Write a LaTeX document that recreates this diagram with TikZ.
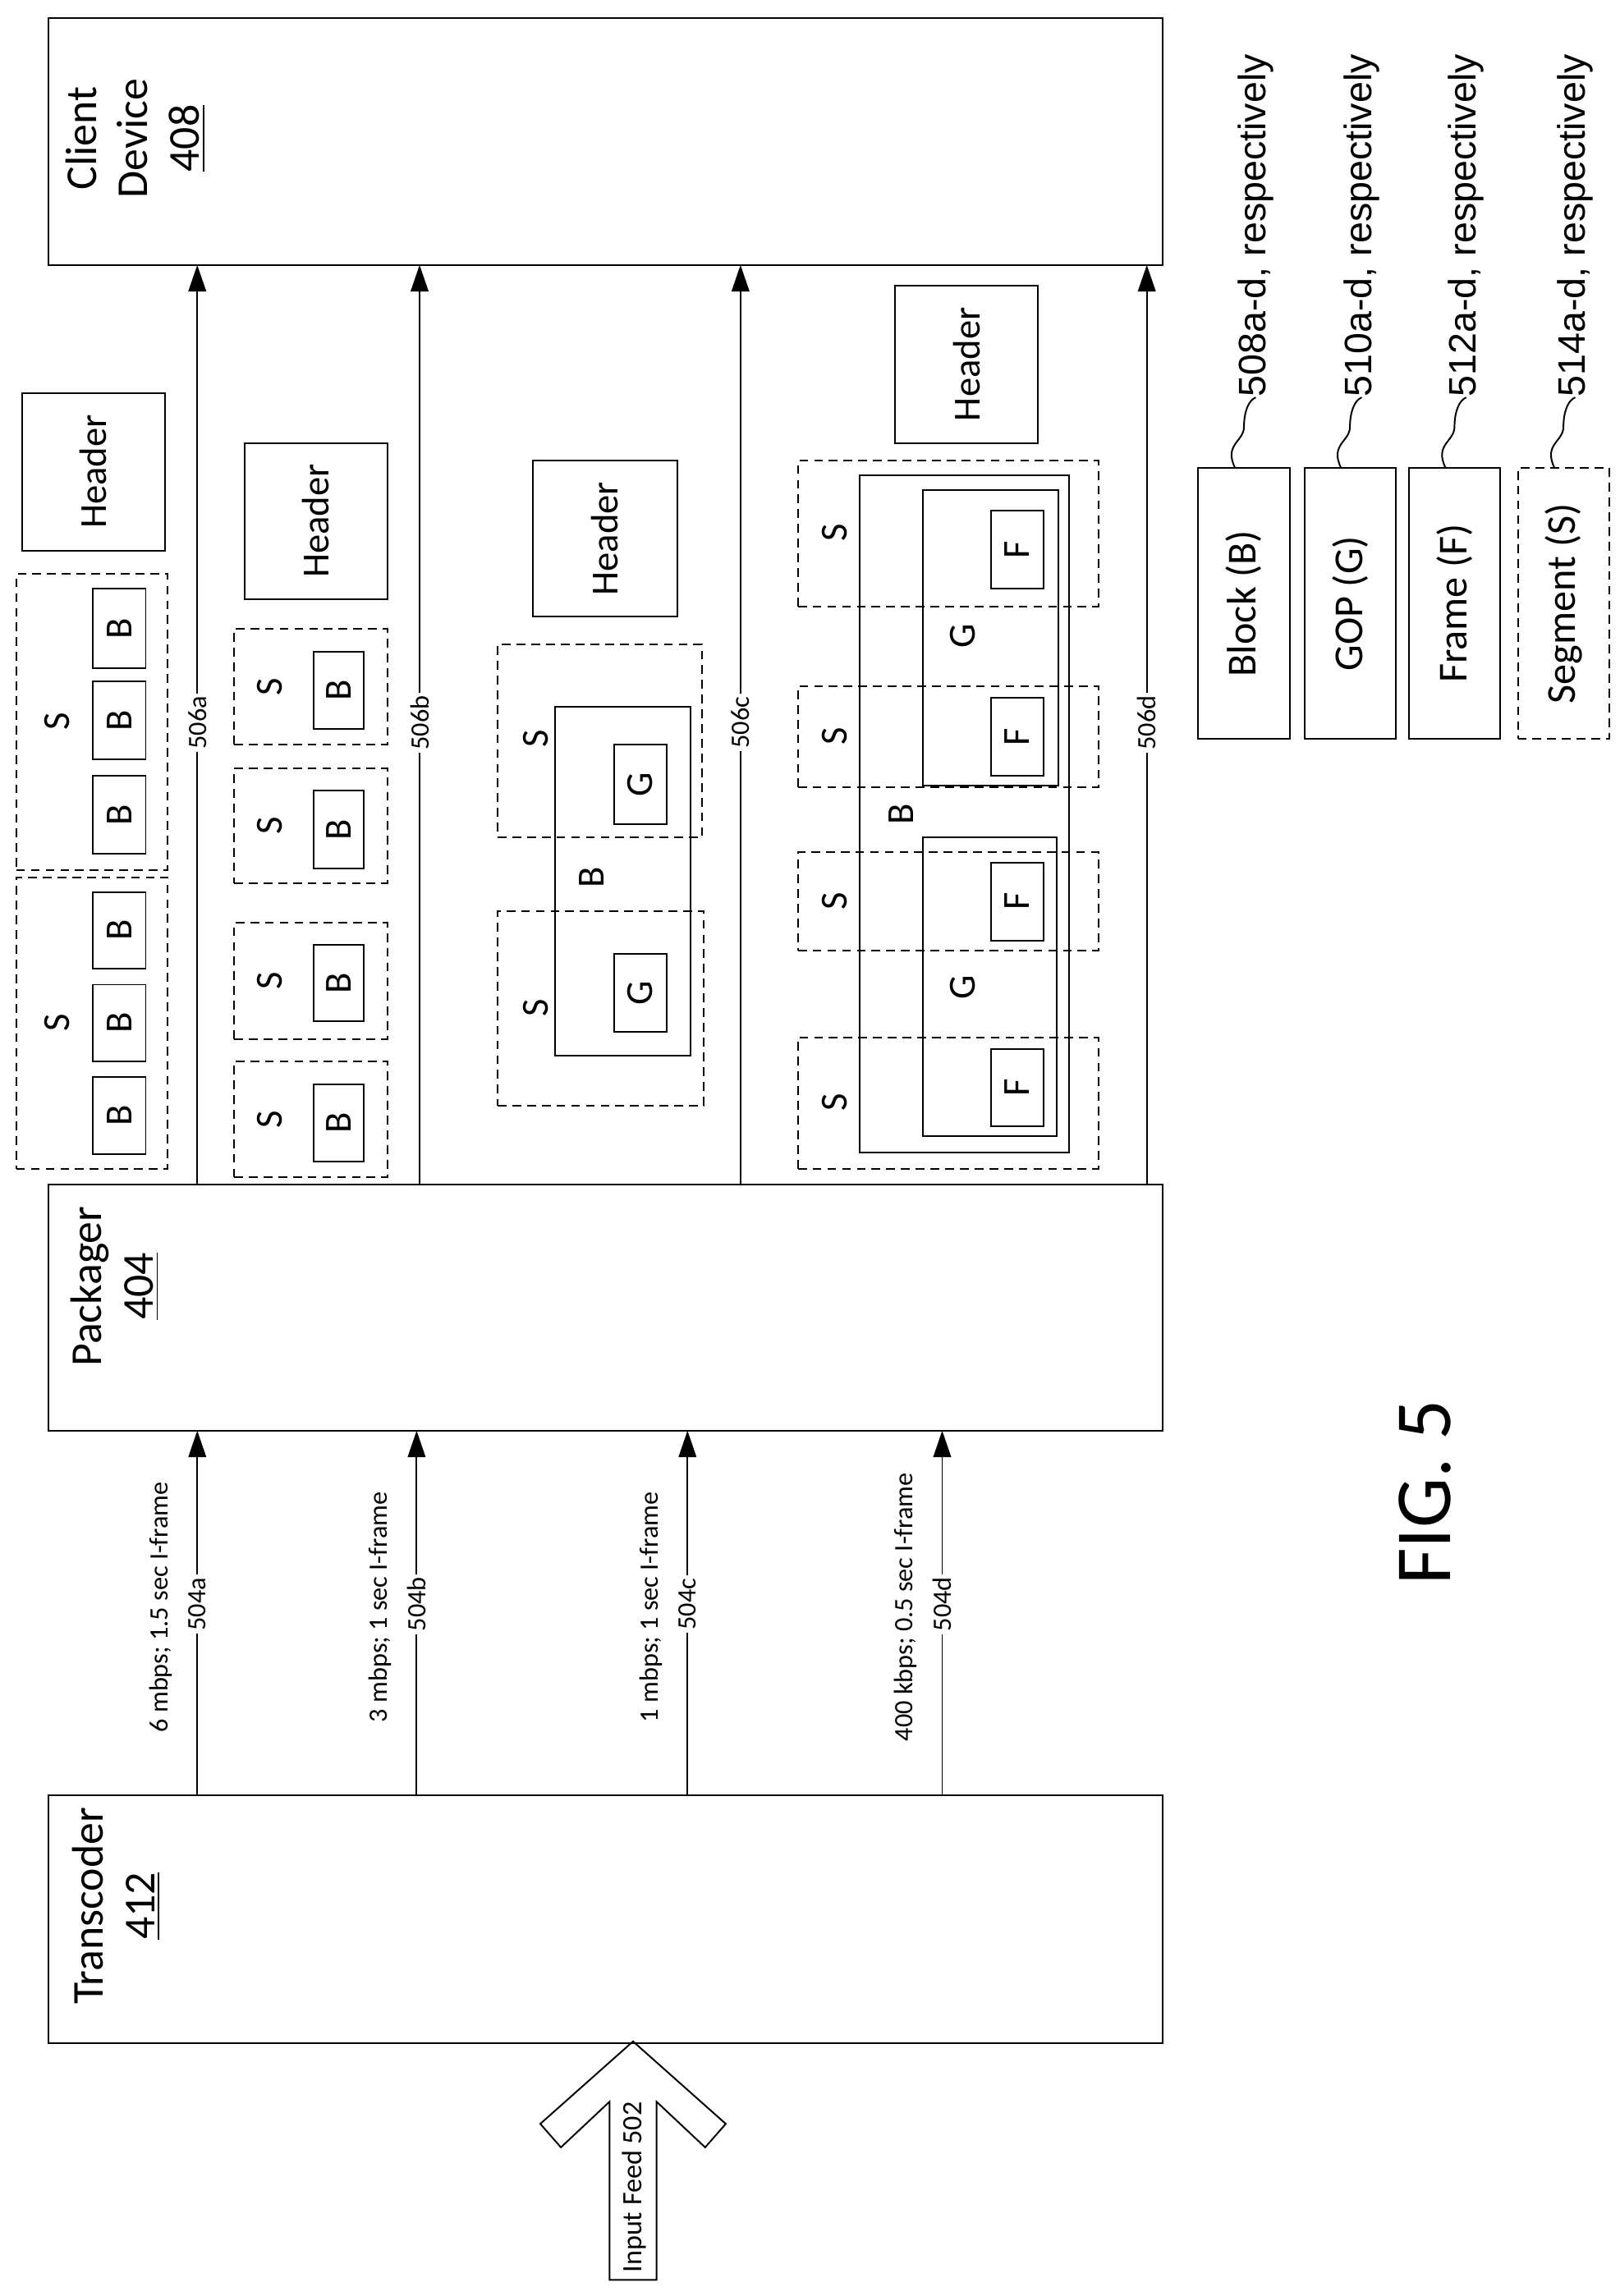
\documentclass[tikz,border=0pt]{standalone}
\usepackage{fontspec}
\setmainfont{Carlito}
\newfontfamily\arialf{Liberation Sans}
\usetikzlibrary{arrows.meta}
\tikzset{
  x=0.5pt,y=-0.5pt,
  box/.style={draw,line width=0.55pt,inner sep=0pt},
  dbox/.style={box,dashed,dash pattern=on 3pt off 2pt},
  rt/.style={rotate=90,inner sep=0pt,font=\fontsize{13}{15}\selectfont},
  big/.style={rotate=90,inner sep=0pt,align=center,font=\fontsize{15}{17.5}\selectfont},
  small/.style={rotate=90,inner sep=1pt,font=\fontsize{9}{10}\selectfont},
  lab/.style={small,fill=white},
  arr/.style={line width=0.55pt,-{Triangle[length=9pt,width=6pt]}},
  leg/.style={rotate=90,anchor=west,inner sep=0pt,font=\arialf\fontsize{13}{14}\selectfont},
}
\newcommand{\bx}[7]{\node[#2,minimum width={(#5-#3)*0.5pt},minimum height={(#6-#4)*0.5pt}] (#1) at ({(#3+#5)/2},{(#4+#6)/2}) {};}
\begin{document}
\begin{tikzpicture}
\useasboundingbox (0,0) rectangle (1100,1560);
% main boxes
\bx{client}{box}{33}{12}{790}{180}{}
\node[big] (clientt) at (92,94) {Client\\Device\\\underline{408}};
\bx{pack}{box}{33}{805}{790}{972}{}
\node[big] (packt) at (78,874) {Packager\\\underline{404}};
\bx{trans}{box}{33}{1220}{790}{1388}{}
\node[big] (transt) at (79,1295) {Transcoder\\\underline{412}};
% input feed arrow
\draw[line width=0.55pt] (430,1387) coordinate (tip) -- (493,1443) -- (479,1459) -- (446,1428) -- (446,1549) -- (414,1549) -- (414,1428) -- (381,1459) -- (367,1443) -- cycle;
\node[rotate=90,inner sep=0pt,font=\fontsize{9.5}{11}\selectfont] (feed) at (431,1486) {Input Feed 502};
% transcoder -> packager
\foreach \n/\x/\r in {a/134/{6 mbps; 1.5 sec I-frame},b/283/{3 mbps; 1 sec I-frame},c/467/{1 mbps; 1 sec I-frame},d/640/{400 kbps; 0.5 sec I-frame}}{
  \coordinate (ts\n) at (\x,1220);
  \coordinate (pe\n) at (\x,972);
  \draw[arr] (ts\n) -- (pe\n);
  \node[lab] (l504\n) at (\x,1090) {504\n};
  \node[small] (rate\n) at (\x-25,1092) {\r};
}
% packager -> client
\foreach \n/\x in {a/134,b/285,c/503,d/779}{
  \coordinate (ps\n) at (\x,805);
  \coordinate (ce\n) at (\x,180);
  \draw[arr] (ps\n) -- (ce\n);
  \node[lab] (l506\n) at (\x,491) {506\n};
}
% column a
\bx{ha}{box}{15}{267}{112}{374}{}
\node[rt] (hat) at (ha) {Header};
\bx{sa1}{dbox}{11}{390}{114}{591}{}
\bx{sa2}{dbox}{11}{596}{114}{794}{}
\node[rt] (sa1t) at (39,490) {S};
\node[rt] (sa2t) at (39,695) {S};
\foreach \i/\a/\b in {1/400/454,2/463/516,3/527/580,4/606/658,5/669/721,6/732/784}{
  \bx{ba\i}{box}{63}{\a}{99}{\b}{}
  \node[rt] (ba\i t) at (ba\i) {B};
}
% column b
\bx{hb}{box}{166}{301}{263}{407}{}
\node[rt] (hbt) at (hb) {Header};
\foreach \i/\a/\b/\c/\d in {1/427/506/443/495,2/522/600/537/590,3/627/706/642/694,4/721/800/737/789}{
  \bx{sb\i}{dbox}{159}{\a}{263}{\b}{}
  \node[rt] (sb\i t) at (183,{(\a+\b)/2}) {S};
  \bx{bb\i}{box}{213}{\c}{247}{\d}{}
  \node[rt] (bb\i t) at (bb\i) {B};
}
% column c
\bx{hc}{box}{362}{313}{460}{419}{}
\node[rt] (hct) at (hc) {Header};
\bx{sc1}{dbox}{338}{438}{477}{569}{}
\bx{sc2}{dbox}{338}{619}{478}{751}{}
\node[rt] (sc1t) at (364,502) {S};
\node[rt] (sc2t) at (364,685) {S};
\bx{bc}{box}{377}{480}{469}{717}{}
\node[rt] (bct) at (402,596) {B};
\bx{gc1}{box}{417}{506}{453}{560}{}
\bx{gc2}{box}{417}{648}{453}{701}{}
\node[rt] (gc1t) at (gc1) {G};
\node[rt] (gc2t) at (gc2) {G};
% column d
\bx{hd}{box}{608}{194}{705}{301}{}
\node[rt] (hdt) at (hd) {Header};
\foreach \i/\a/\b/\m in {1/313/412/362,2/466/535/500,3/579/646/612,4/705/794/749}{
  \bx{sd\i}{dbox}{542}{\a}{746}{\b}{}
  \node[rt] (sd\i t) at (567,\m) {S};
}
\bx{bd}{box}{584}{323}{726}{783}{}
\node[rt] (bdt) at (612,553) {B};
\bx{gd1}{box}{627}{333}{719}{534}{}
\bx{gd2}{box}{627}{569}{718}{772}{}
\node[rt] (gd1t) at (654,432) {G};
\node[rt] (gd2t) at (654,671) {G};
\foreach \i/\a/\b in {1/347/400,2/474/527,3/586/639,4/713/765}{
  \bx{fd\i}{box}{673}{\a}{709}{\b}{}
  \node[rt] (fd\i t) at (fd\i) {F};
}
% legend
\foreach \n/\xa/\sty/\t/\r in {1/814/box/{Block (B)}/508a-d,2/886/box/{GOP (G)}/510a-d,3/957/box/{Frame (F)}/512a-d,4/1031/dbox/{Segment (S)}/514a-d}{
  \bx{lg\n}{\sty}{\xa}{318}{\xa+62}{502}{}
  \node[rt,font=\fontsize{14}{16}\selectfont] (lg\n t) at (lg\n) {\t};
  \node[leg] (lgl\n) at (\xa+39,270) {\r, respectively};
  \draw[line width=0.55pt] (\xa+25,318) .. controls (\xa+17,302) and (\xa+31,300) .. (\xa+31,290)
     .. controls (\xa+31,280) and (\xa+34,272) .. (lgl\n.west);
}
% figure label
\node[rotate=90,inner sep=0pt,font=\fontsize{27}{30}\selectfont] (fig) at (968,1014) {FIG. 5};
\end{tikzpicture}
\end{document}
